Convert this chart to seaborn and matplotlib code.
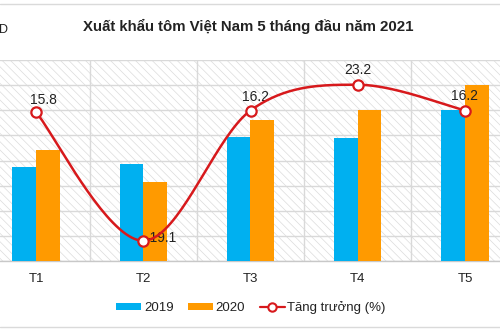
import numpy as np
import pandas as pd
import matplotlib
matplotlib.use("Agg")
import matplotlib.pyplot as plt
import seaborn as sns
from matplotlib.patches import Rectangle, Patch
from matplotlib.lines import Line2D

months = ["T1", "T2", "T3", "T4", "T5"]
exports_2019 = [188, 194, 246, 244, 300]
exports_2020 = [220, 157, 280, 300, 350]
growth = [15.8, -19.1, 16.2, 23.2, 16.2]
growth_labels = ["15.8", "-19.1", "16.2", "23.2", "16.2"]
years = ["2019", "2020"]

title = "Xuất khẩu tôm Việt Nam 5 tháng đầu năm 2021"
unit_label = "Triệu USD"
growth_name = "Tăng trưởng (%)"

BLUE = "#00B0F0"
ORANGE = "#FF9A00"
RED = "#D7191C"
GRID = "#D9D9D9"

sns.set_theme(style="white")
plt.rcParams["font.family"] = ["Liberation Sans", "DejaVu Sans"]
plt.rcParams["hatch.linewidth"] = 0.5
plt.rcParams["hatch.color"] = "#DCDCDC"

df = pd.DataFrame({
    "month": months * 2,
    "value": exports_2019 + exports_2020,
    "year": [years[0]] * len(months) + [years[1]] * len(months),
})

W, H = 500, 333
fig = plt.figure(figsize=(5.0, 3.33), dpi=100)
fig.patch.set_facecolor("white")

ax_top, ax_bot = 60, 261
ax = fig.add_axes([0, (H - ax_bot) / H, 1, (ax_bot - ax_top) / H])
ax.set_facecolor("white")

# hatched background
bg = Rectangle((0, 0), 1, 1, transform=ax.transAxes, facecolor="white",
               edgecolor="#DCDCDC", hatch="\\\\\\\\", linewidth=0, zorder=0)
ax.add_patch(bg)

sns.barplot(data=df, x="month", y="value", hue="year", ax=ax,
            palette=[BLUE, ORANGE], width=0.44, gap=0, saturation=1,
            edgecolor="none", legend=False, zorder=3)

cx0 = 36 / 107.25
ax.set_xlim(-cx0, (W - 36) / 107.25)
ax.set_ylim(0, 400)
ax.set_yticks(np.arange(0, 401, 50))
ax.set_yticklabels([])
ax.tick_params(axis="y", length=0)
ax.grid(axis="y", color=GRID, linewidth=1, zorder=1)
ax.set_xticks(range(len(months)))
ax.set_xticklabels(months, fontsize=9.5, color="#222222")
ax.set_xticks(np.arange(0.5, len(months) - 0.5, 1), minor=True)
ax.tick_params(axis="x", which="major", length=0, pad=9)
ax.tick_params(axis="x", which="minor", length=4, color=GRID, width=1)
ax.grid(axis="x", which="minor", color=GRID, linewidth=1, zorder=1)
ax.set_axisbelow(True)
for s in ["top", "left", "right"]:
    ax.spines[s].set_visible(False)
ax.spines["bottom"].set_color("#C8C8C8")
ax.spines["bottom"].set_linewidth(1)
ax.set_xlabel("")
ax.set_ylabel("")

# secondary axis: growth line (smoothed like Excel)
ax2 = ax.twinx()
ax2.set_ylim(-24.6, 29.9)
ax2.set_yticks([])
for s in ax2.spines.values():
    s.set_visible(False)

xs = np.arange(len(growth), dtype=float)
ys = np.array(growth, dtype=float)
cx, cy = [], []
n = len(xs)
t = np.linspace(0, 1, 40)
for i in range(n - 1):
    p0 = np.array([xs[i], ys[i]])
    p3 = np.array([xs[i + 1], ys[i + 1]])
    pm = np.array([xs[i - 1], ys[i - 1]]) if i > 0 else p0
    pp = np.array([xs[i + 2], ys[i + 2]]) if i + 2 < n else p3
    c1 = p0 + (p3 - pm) / 6
    c2 = p3 - (pp - p0) / 6
    seg = ((1 - t) ** 3)[:, None] * p0 + (3 * (1 - t) ** 2 * t)[:, None] * c1 \
        + (3 * (1 - t) * t ** 2)[:, None] * c2 + (t ** 3)[:, None] * p3
    cx.extend(seg[:, 0]); cy.extend(seg[:, 1])
ax2.plot(cx, cy, color=RED, linewidth=1.8, zorder=5)
sns.scatterplot(x=xs, y=ys, ax=ax2, s=55, color="white", edgecolor=RED,
                linewidth=1.6, zorder=6, legend=False)

offsets = [(7, 12), (18, 3), (5, 14), (0, 15), (0, 15)]
for i, (x, y) in enumerate(zip(xs, ys)):
    dx, dy = offsets[i]
    ax2.annotate(growth_labels[i], (x, y), xytext=(dx * 0.72, dy * 0.72),
                 textcoords="offset points", ha="center", va="center",
                 fontsize=10, color="#222222", zorder=4)

# title and unit
fig.text(0.497, 1 - 26 / H, title, ha="center", va="center",
         fontsize=10.8, fontweight="bold", color="#222222")
fig.text(8 / W, 1 - 29 / H, unit_label, ha="right", va="center",
         fontsize=9, color="#222222")

# border lines
fig.add_artist(Line2D([0, 1], [1 - 3.5 / H, 1 - 3.5 / H], color="#DADADA", linewidth=1))
fig.add_artist(Line2D([0, 1], [1 - 327 / H, 1 - 327 / H], color="#DADADA", linewidth=1))

handles = [
    Patch(facecolor=BLUE, edgecolor="none"),
    Patch(facecolor=ORANGE, edgecolor="none"),
    Line2D([0], [0], color=RED, linewidth=1.6, marker="o", markersize=6,
           markerfacecolor="white", markeredgecolor=RED, markeredgewidth=1.5),
]
leg = fig.legend(handles, years + [growth_name], loc="center",
                 bbox_to_anchor=(0.502, 1 - 308 / H), ncol=3, frameon=False,
                 fontsize=9.5, handlelength=1.9, handleheight=0.45,
                 handletextpad=0.2, columnspacing=1.1)
for txt in leg.get_texts():
    txt.set_color("#222222")

fig.savefig("out.png", dpi=100, facecolor="white")
